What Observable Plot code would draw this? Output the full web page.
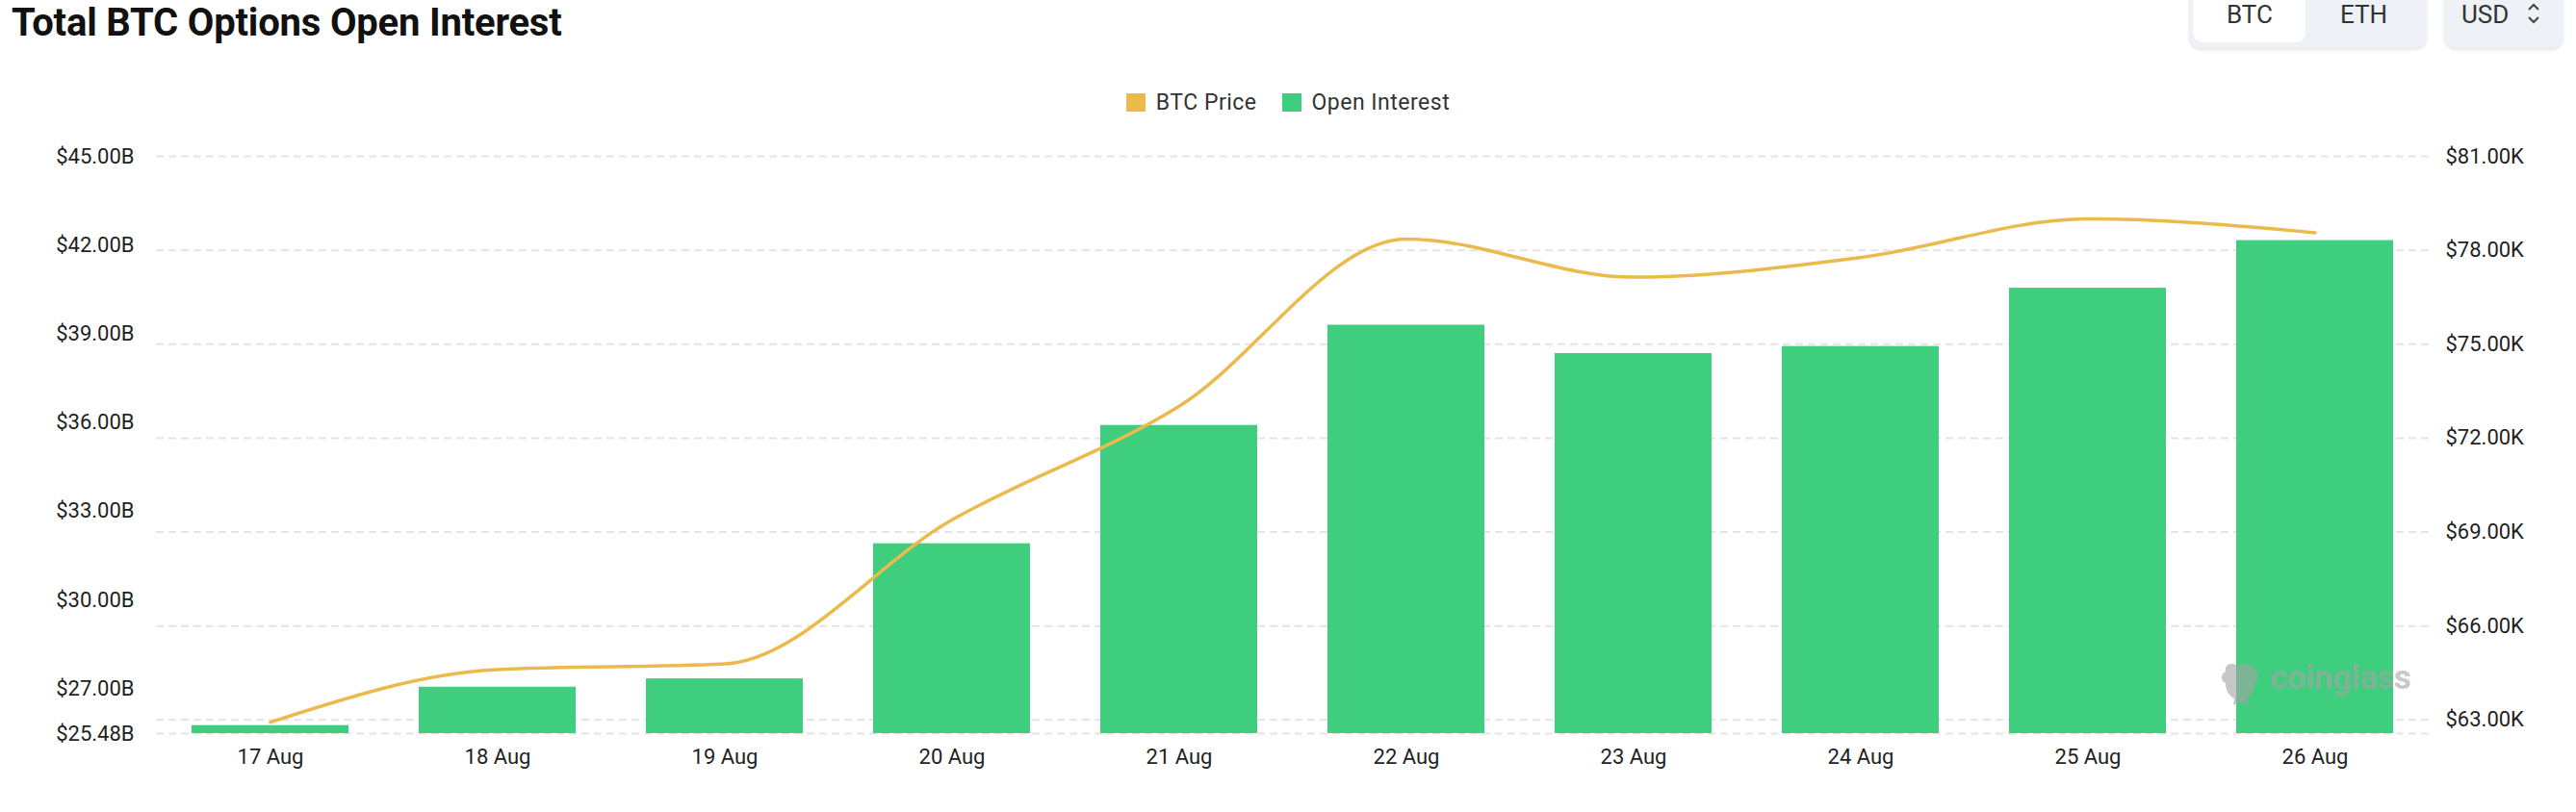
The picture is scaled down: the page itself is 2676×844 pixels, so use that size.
<!DOCTYPE html>
<html>
<head>
<meta charset="utf-8">
<script src="https://cdn.jsdelivr.net/npm/d3@7"></script>
<script src="https://cdn.jsdelivr.net/npm/@observablehq/plot@0.6"></script>
<style>
  html, body { margin: 0; padding: 0; background: #fff; }
  body { font-family: Roboto, "Noto Sans", sans-serif; }
  #wrap { position: relative; width: 2676px; height: 844px; overflow: hidden; background: #fff; }
  #header { position: relative; width: 2676px; height: 130px; }
  .title { position: absolute; left: 12px; top: 0px; font-size: 40px; line-height: 47px; font-weight: 700; color: #111; white-space: nowrap; letter-spacing: -0.2px; }
  .seg { position: absolute; left: 2274px; top: -12px; width: 247px; height: 62px; background: #eef1f5; border-radius: 12px; box-shadow: 0 2px 3px rgba(0,0,0,0.10); }
  .seg .on { position: absolute; left: 4px; top: 0; width: 117px; height: 56px; background: #fff; border-radius: 10px; }
  .btn { position: absolute; font-size: 26px; line-height: 30px; color: #333; white-space: nowrap; }
  .usd { position: absolute; left: 2539px; top: -12px; width: 124px; height: 62px; background: #eef1f5; border-radius: 12px; box-shadow: 0 2px 3px rgba(0,0,0,0.10); }
  .legend { position: absolute; top: 93px; left: 0; width: 2676px; display: flex; justify-content: center; align-items: center; font-size: 23px; letter-spacing: 0.5px; color: #333; }
  .legend .item { display: flex; align-items: center; margin: 0 13px; }
  .legend .sw { width: 20px; height: 19px; margin-right: 11px; }
  #chart { position: absolute; left: 0; top: 130px; }
  .wm { position: absolute; left: 2358px; top: 684px; font-size: 35px; font-weight: 700; color: rgba(165,165,165,0.62); letter-spacing: -0.5px; white-space: nowrap; }
  .wmlogo { position: absolute; left: 2306px; top: 688px; width: 42px; height: 46px; }
</style>
</head>
<body>
<div id="wrap">
  <div id="header">
    <div class="title">Total BTC Options Open Interest</div>
    <div class="seg"><div class="on"></div></div>
    <div class="btn" style="left:2313px; top:0px;">BTC</div>
    <div class="btn" style="left:2431px; top:0px;">ETH</div>
    <div class="usd"></div>
    <div class="btn" style="left:2557px; top:0px;">USD</div>
    <svg style="position:absolute; left:2624px; top:2px;" width="16" height="24" viewBox="0 0 16 24">
      <polyline points="3,8 8,3 13,8" fill="none" stroke="#444" stroke-width="2"/>
      <polyline points="3,16 8,21 13,16" fill="none" stroke="#444" stroke-width="2"/>
    </svg>
    <div class="legend" id="legend"></div>
  </div>
  <div id="chart"></div>
  <svg class="wmlogo" viewBox="0 0 42 46">
    <path d="M6,10 C4,2 14,0 18,4 C22,0 34,1 36,8 C42,10 40,20 36,22 C36,30 32,36 28,38 L30,45 L22,42 L14,45 L15,38 C8,34 6,28 6,22 C0,20 1,12 6,10 Z" fill="rgba(165,165,165,0.62)"/>
  </svg>
  <div class="wm">coinglass</div>
</div>
<script>
// ---- data ----
const dates = ["17 Aug", "18 Aug", "19 Aug", "20 Aug", "21 Aug", "22 Aug", "23 Aug", "24 Aug", "25 Aug", "26 Aug"];
const openInterest = [25.75, 27.05, 27.33, 31.90, 35.90, 39.29, 38.33, 38.57, 40.54, 42.15]; // $B
const btcPrice = [62.93, 64.61, 64.79, 69.39, 73.02, 78.36, 77.14, 77.77, 79.00, 78.56];     // $K
const leftTicks = [25.48, 27, 30, 33, 36, 39, 42, 45];   // $B axis labels
const rightTicks = [63, 66, 69, 72, 75, 78, 81];         // $K axis labels
const leftDomain = [25.48, 45];
const rightDomain = [62.564, 81];
const seriesNames = ["BTC Price", "Open Interest"];
const seriesColors = ["#EBBA4D", "#3FCD7E"];

// map the right-axis (price) values into the left-axis value space
const toLeft = p => leftDomain[0] + (p - rightDomain[0]) / (rightDomain[1] - rightDomain[0]) * (leftDomain[1] - leftDomain[0]);
const fromLeft = v => rightDomain[0] + (v - leftDomain[0]) / (leftDomain[1] - leftDomain[0]) * (rightDomain[1] - rightDomain[0]);

const data = dates.map((d, i) => ({date: d, oi: openInterest[i], price: btcPrice[i], priceY: toLeft(btcPrice[i])}));

// legend
const legend = document.getElementById("legend");
seriesNames.forEach((name, i) => {
  const item = document.createElement("div");
  item.className = "item";
  const sw = document.createElement("div");
  sw.className = "sw";
  sw.style.background = seriesColors[i];
  const label = document.createElement("span");
  label.textContent = name;
  item.appendChild(sw);
  item.appendChild(label);
  legend.appendChild(item);
});

const chart = Plot.plot({
  width: 2676,
  height: 714,
  marginLeft: 162,
  marginRight: 153,
  marginTop: 32,
  marginBottom: 82,
  style: {fontFamily: "Roboto, 'Noto Sans', sans-serif", fontSize: "22px", color: "#1f1f1f", background: "transparent"},
  x: {domain: dates, paddingInner: 0.31, paddingOuter: 0.155, label: null},
  y: {domain: leftDomain, label: null},
  marks: [
    Plot.gridY(rightTicks.map(toLeft), {stroke: "#e4e4e4", strokeOpacity: 1, strokeWidth: 2, strokeDasharray: "8,5"}),
    Plot.ruleY([leftDomain[0]], {stroke: "#e4e4e4", strokeWidth: 2, strokeDasharray: "8,5"}),
    Plot.barY(data, {x: "date", y1: leftDomain[0], y2: "oi", fill: seriesColors[1]}),
    Plot.lineY(data, {x: "date", y: "priceY", stroke: seriesColors[0], strokeWidth: 3.5, curve: "monotone-x"}),
    Plot.axisY(leftTicks, {anchor: "left", tickSize: 0, tickPadding: 23, tickFormat: d => "$" + d.toFixed(2) + "B"}),
    Plot.axisY(rightTicks.map(toLeft), {anchor: "right", tickSize: 0, tickPadding: 17, tickFormat: d => "$" + fromLeft(d).toFixed(2) + "K"}),
    Plot.axisX({tickSize: 0, tickPadding: 16})
  ]
});
document.getElementById("chart").appendChild(chart);
</script>
</body>
</html>
